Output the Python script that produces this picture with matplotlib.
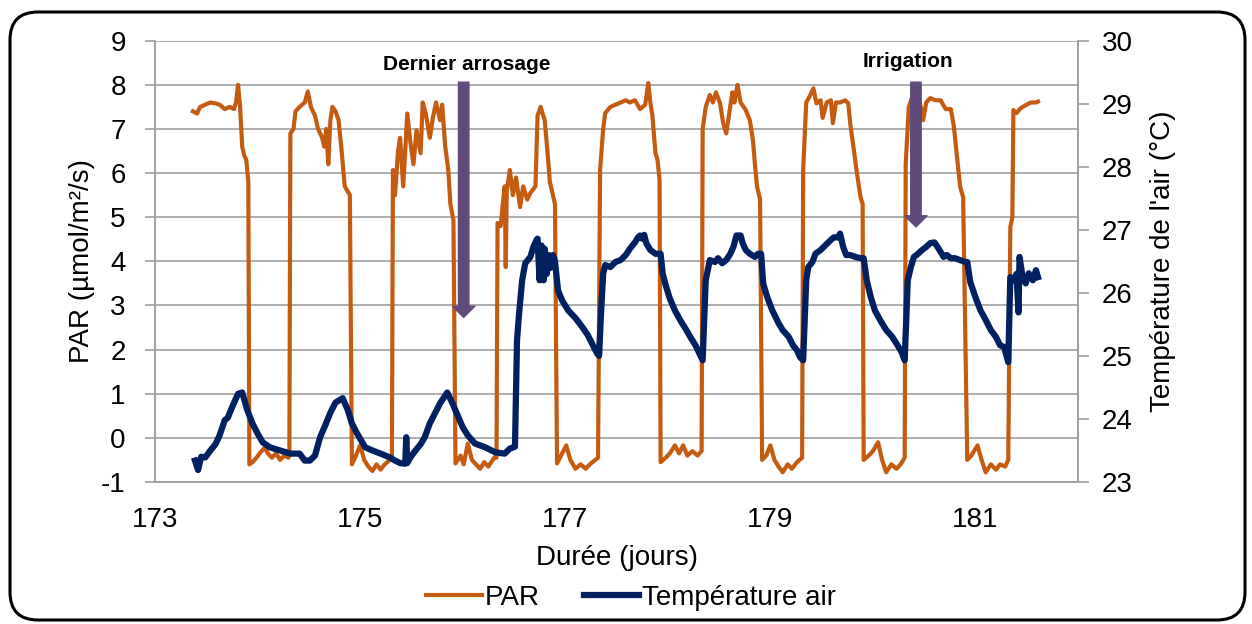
import matplotlib
matplotlib.use("Agg")
import matplotlib.pyplot as plt
from matplotlib.patches import FancyBboxPatch

plt.rcParams['font.family'] = ['Liberation Sans', 'DejaVu Sans']
plt.rcParams['axes.unicode_minus'] = False

# PAR (umol/m2/s), one block per day
par_days = [
    173.37, 173.41, 173.44, 173.49, 173.54, 173.59, 173.63, 173.68, 173.73, 173.77,
    173.79, 173.81, 173.83, 173.85, 173.87, 173.89, 173.91, 173.92,
    173.95, 173.99, 174.02, 174.07, 174.10, 174.14, 174.18, 174.22, 174.26, 174.30, 174.31,
    174.32, 174.35, 174.37, 174.41, 174.46, 174.49, 174.52, 174.56, 174.59, 174.63,
    174.65, 174.67, 174.69, 174.71, 174.73, 174.76, 174.79, 174.82, 174.85, 174.90, 174.92,
    174.96, 175.00, 175.04, 175.08, 175.12, 175.16, 175.20, 175.24, 175.29, 175.31,
    175.32, 175.34, 175.37, 175.39, 175.42, 175.46, 175.49, 175.52, 175.55, 175.59,
    175.61, 175.64, 175.68, 175.71, 175.74, 175.78, 175.80, 175.83, 175.86, 175.88, 175.91, 175.93,
    175.98, 176.01, 176.05, 176.09, 176.13, 176.17, 176.21, 176.25, 176.31, 176.33,
    176.34, 176.37, 176.40, 176.41, 176.42, 176.43, 176.46, 176.49, 176.52, 176.56,
    176.59, 176.63, 176.66, 176.71, 176.73, 176.76, 176.80, 176.83, 176.85, 176.90, 176.92,
    176.96, 177.01, 177.05, 177.10, 177.15, 177.20, 177.24, 177.32,
    177.34, 177.37, 177.39, 177.44, 177.49, 177.54, 177.59, 177.63, 177.68, 177.73,
    177.78, 177.81, 177.83, 177.85, 177.88, 177.90, 177.92, 177.93,
    177.98, 178.02, 178.07, 178.11, 178.15, 178.19, 178.24, 178.29, 178.33,
    178.34, 178.37, 178.41, 178.44, 178.47, 178.51, 178.54, 178.57, 178.60, 178.63,
    178.65, 178.68, 178.71, 178.76, 178.80, 178.83, 178.85, 178.87, 178.90, 178.92,
    178.96, 179.00, 179.04, 179.08, 179.12, 179.17, 179.21, 179.26, 179.31,
    179.32, 179.35, 179.39, 179.42, 179.45, 179.49, 179.51, 179.55, 179.59, 179.61,
    179.64, 179.68, 179.73, 179.76, 179.78, 179.81, 179.84, 179.88, 179.90, 179.91,
    179.96, 180.00, 180.05, 180.09, 180.13, 180.18, 180.23, 180.27, 180.31,
    180.32, 180.35, 180.38, 180.42, 180.46, 180.49, 180.52, 180.56, 180.61, 180.66,
    180.71, 180.76, 180.79, 180.81, 180.85, 180.88, 180.92,
    180.96, 181.02, 181.06, 181.10, 181.15, 181.20, 181.24, 181.29, 181.32,
    181.34, 181.36, 181.37, 181.40, 181.44, 181.49, 181.54, 181.59, 181.61,
]
par = [
    7.40, 7.35, 7.50, 7.55, 7.60, 7.58, 7.55, 7.45, 7.50, 7.45,
    7.60, 8.00, 7.50, 6.60, 6.40, 6.30, 5.80, -0.60,
    -0.55, -0.45, -0.35, -0.22, -0.35, -0.45, -0.35, -0.50, -0.40, -0.45, -0.40,
    6.90, 7.00, 7.40, 7.50, 7.60, 7.85, 7.50, 7.30, 7.00, 6.80,
    6.60, 7.00, 6.20, 7.20, 7.50, 7.40, 7.20, 6.50, 5.70, 5.50, -0.60,
    -0.40, -0.17, -0.50, -0.65, -0.75, -0.60, -0.72, -0.60, -0.50, -0.45,
    6.07, 5.50, 6.50, 6.80, 5.70, 7.35, 6.70, 6.20, 6.97, 6.45,
    7.60, 7.35, 6.80, 7.26, 7.60, 7.20, 7.55, 6.60, 6.07, 5.30, 4.93, -0.58,
    -0.40, -0.60, -0.13, -0.50, -0.60, -0.70, -0.55, -0.65, -0.44, -0.45,
    4.87, 4.80, 5.50, 5.70, 3.87, 5.60, 6.07, 5.50, 5.90, 5.23,
    5.70, 5.40, 5.55, 5.70, 7.30, 7.50, 7.20, 6.40, 5.80, 5.30, -0.58,
    -0.40, -0.17, -0.50, -0.70, -0.60, -0.70, -0.60, -0.45,
    6.07, 7.00, 7.36, 7.50, 7.55, 7.60, 7.65, 7.60, 7.65, 7.45,
    7.55, 8.04, 7.60, 7.30, 6.45, 6.30, 5.85, -0.55,
    -0.45, -0.35, -0.17, -0.35, -0.17, -0.40, -0.30, -0.40, -0.30,
    7.00, 7.50, 7.77, 7.60, 7.83, 7.58, 7.13, 6.90, 7.36, 7.83,
    7.60, 8.00, 7.60, 7.43, 7.20, 6.75, 6.20, 5.70, 5.40, -0.50,
    -0.40, -0.17, -0.50, -0.65, -0.78, -0.60, -0.70, -0.55, -0.45,
    6.07, 7.60, 7.77, 7.92, 7.58, 7.65, 7.25, 7.60, 7.65, 7.13,
    7.60, 7.60, 7.65, 7.58, 7.10, 6.60, 6.07, 5.45, 5.30, -0.50,
    -0.40, -0.30, -0.10, -0.50, -0.78, -0.60, -0.70, -0.60, -0.45,
    6.20, 7.50, 7.70, 7.65, 7.58, 7.20, 7.60, 7.70, 7.65, 7.65,
    7.45, 7.45, 7.05, 6.60, 5.70, 5.45, -0.50,
    -0.40, -0.17, -0.50, -0.78, -0.60, -0.72, -0.60, -0.65, -0.50,
    4.78, 5.00, 7.43, 7.36, 7.47, 7.54, 7.60, 7.60, 7.62,
]

# Air temperature (deg C)
temp_days = [
    173.39, 173.42, 173.45, 173.49, 173.54, 173.59, 173.63, 173.68, 173.71, 173.75,
    173.81, 173.85, 173.90, 173.95, 174.00, 174.05, 174.12, 174.22, 174.32, 174.41,
    174.46, 174.51, 174.56, 174.61, 174.66, 174.71, 174.76, 174.83, 174.88, 174.92,
    174.97, 175.05, 175.12, 175.20, 175.29, 175.34, 175.39, 175.44, 175.45, 175.46,
    175.49, 175.54, 175.59, 175.63, 175.68, 175.73, 175.78, 175.85, 175.90, 175.96,
    176.00, 176.05, 176.12, 176.22, 176.32, 176.41, 176.46, 176.51, 176.53, 176.55,
    176.58, 176.61, 176.66, 176.69, 176.72, 176.73, 176.75, 176.77, 176.79, 176.80,
    176.82, 176.84, 176.86, 176.88, 176.90, 176.93, 176.97, 177.03, 177.10, 177.17,
    177.22, 177.27, 177.31, 177.33, 177.35, 177.37, 177.39, 177.44, 177.49, 177.54,
    177.59, 177.63, 177.68, 177.71, 177.73, 177.75, 177.77, 177.79, 177.83, 177.88,
    177.93, 177.95, 177.98, 178.02, 178.07, 178.12, 178.17, 178.22, 178.27, 178.32,
    178.34, 178.37, 178.41, 178.46, 178.49, 178.53, 178.57, 178.61, 178.64, 178.67,
    178.71, 178.73, 178.76, 178.80, 178.85, 178.88, 178.91, 178.93, 178.97, 179.02,
    179.08, 179.12, 179.18, 179.22, 179.26, 179.29, 179.32, 179.35, 179.37, 179.41,
    179.44, 179.49, 179.54, 179.59, 179.62, 179.66, 179.68, 179.71, 179.74, 179.78,
    179.83, 179.88, 179.91, 179.94, 179.98, 180.02, 180.07, 180.13, 180.19, 180.24,
    180.28, 180.31, 180.34, 180.37, 180.40, 180.44, 180.48, 180.52, 180.56, 180.60,
    180.63, 180.66, 180.69, 180.72, 180.76, 180.80, 180.85, 180.90, 180.92, 180.95,
    181.00, 181.05, 181.10, 181.15, 181.20, 181.24, 181.28, 181.31, 181.32, 181.34,
    181.37, 181.40, 181.42, 181.43, 181.46, 181.49, 181.52, 181.56, 181.59, 181.61,
]
temp = [
    23.34, 23.19, 23.40, 23.39, 23.50, 23.60, 23.74, 23.98, 24.02, 24.18,
    24.40, 24.42, 24.14, 23.93, 23.77, 23.63, 23.55, 23.50, 23.45, 23.45,
    23.34, 23.34, 23.42, 23.71, 23.90, 24.10, 24.26, 24.33, 24.14, 23.93,
    23.77, 23.55, 23.50, 23.45, 23.39, 23.34, 23.30, 23.29, 23.71, 23.30,
    23.39, 23.50, 23.60, 23.71, 23.93, 24.09, 24.25, 24.42, 24.25, 24.02,
    23.87, 23.74, 23.61, 23.55, 23.47, 23.45, 23.53, 23.56, 25.25, 25.67,
    26.20, 26.47, 26.57, 26.73, 26.84, 26.86, 26.20, 26.75, 26.20, 26.70,
    26.30, 26.60, 26.40, 26.60, 26.50, 26.04, 25.88, 25.72, 25.60, 25.45,
    25.33, 25.17, 25.04, 25.00, 25.70, 26.31, 26.44, 26.41, 26.49, 26.52,
    26.60, 26.70, 26.80, 26.88, 26.91, 26.86, 26.92, 26.79, 26.68, 26.62,
    26.62, 26.31, 26.12, 25.91, 25.72, 25.57, 25.44, 25.30, 25.17, 25.00,
    24.93, 26.20, 26.52, 26.49, 26.55, 26.47, 26.52, 26.62, 26.73, 26.91,
    26.91, 26.79, 26.68, 26.62, 26.57, 26.62, 26.62, 26.15, 25.93, 25.72,
    25.52, 25.41, 25.30, 25.17, 25.09, 24.98, 24.93, 26.20, 26.41, 26.49,
    26.62, 26.68, 26.76, 26.84, 26.88, 26.88, 26.94, 26.73, 26.60, 26.60,
    26.57, 26.55, 26.55, 26.20, 25.93, 25.72, 25.57, 25.41, 25.30, 25.17,
    25.06, 24.93, 26.20, 26.41, 26.57, 26.62, 26.68, 26.73, 26.79, 26.80,
    26.73, 26.65, 26.57, 26.60, 26.55, 26.55, 26.52, 26.49, 26.49, 26.17,
    25.93, 25.72, 25.57, 25.41, 25.30, 25.17, 25.14, 24.96, 24.90, 26.25,
    26.20, 26.30, 25.69, 26.57, 26.25, 26.15, 26.31, 26.20, 26.36, 26.25,
]

# arrows and their notes (PAR units)
arrow_days = [176.01, 180.42]
arrow_top = [8.06, 8.06]
arrow_tip = [2.73, 4.78]
note_days = [176.04, 180.34]
note_par = [8.45, 8.52]
note_text = ["Dernier arrosage", "Irrigation"]

ORANGE = "#C55A11"
NAVY = "#002060"
PURPLE = "#604A7B"
GRID = "#A0A0A0"

fig = plt.figure(figsize=(12.52, 6.24), dpi=100)
ax = fig.add_axes([155 / 1252, 1 - 482 / 624, 923 / 1252, 441.3 / 624])
ax2 = ax.twinx()

l1, = ax.plot(par_days, par, color=ORANGE, lw=3.0, solid_joinstyle="round")
l2, = ax2.plot(temp_days, temp, color=NAVY, lw=4.5, solid_joinstyle="round")

ax.set_xlim(173, 182)
ax.set_ylim(-1, 9)
ax2.set_ylim(23, 30)
ax.set_xticks(range(173, 182, 2))
ax.set_yticks(range(-1, 10))
ax2.set_yticks(range(23, 31))

ax.yaxis.grid(True, color=GRID, lw=1.2)
ax.set_axisbelow(True)
for a in (ax, ax2):
    a.spines["top"].set_visible(False)
    for s in ("left", "right", "bottom"):
        a.spines[s].set_color(GRID)
        a.spines[s].set_linewidth(1.2)
ax.tick_params(axis="y", length=7, color=GRID, width=1.2, labelsize=20, pad=14)
ax.tick_params(axis="x", length=0, labelsize=20, pad=18)
ax2.tick_params(axis="y", length=8, color=GRID, width=1.2, labelsize=20, pad=9)

ax.set_xlabel("Durée (jours)", fontsize=20, va="center")
ax.xaxis.set_label_coords(0.5, -0.172)
ax.set_ylabel("PAR (µmol/m²/s)", fontsize=20, va="center")
ax.yaxis.set_label_coords(-0.079, 0.5)
ax2.set_ylabel("Température de l'air (°C)", fontsize=20, va="center")
ax2.yaxis.set_label_coords(1.092, 0.5)

for d, top, tip in zip(arrow_days, arrow_top, arrow_tip):
    ax2.annotate("", xy=(d, tip), xycoords=ax.transData,
                 xytext=(d, top), textcoords=ax.transData,
                 arrowprops=dict(arrowstyle="simple,head_length=8,head_width=16,tail_width=7.5",
                                 color=PURPLE, shrinkA=0, shrinkB=0, mutation_scale=1))
for d, p, t in zip(note_days, note_par, note_text):
    ax.text(d, p, t, fontsize=15, fontweight="bold", ha="center", va="center")

fig.legend([l1, l2], ["PAR", "Température air"], loc="center",
           bbox_to_anchor=(0.504, 0.042), ncol=2, frameon=False, fontsize=20,
           handlelength=2.0, handletextpad=0.1, columnspacing=1.6)

border = FancyBboxPatch((0.10, 0.04), 12.35, 6.08, boxstyle="round,pad=0,rounding_size=0.28",
                        transform=fig.dpi_scale_trans, fill=False, ec="black", lw=2.2)
fig.add_artist(border)

fig.savefig("out.png", dpi=100)
